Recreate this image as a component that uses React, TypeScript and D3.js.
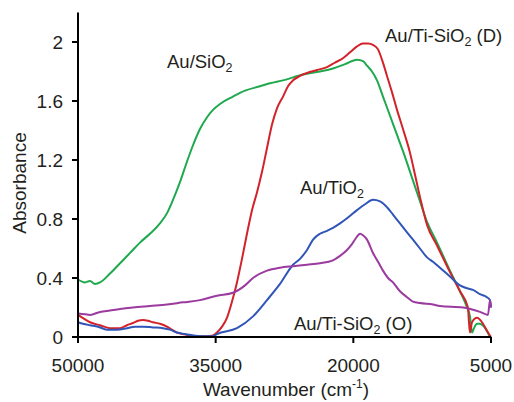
import React from "react";
import * as d3 from "d3";

type Pt = [number, number];

const xTicks = [50000, 35000, 20000, 5000];
const yTicks = [0, 0.4, 0.8, 1.2, 1.6, 2.0];
const yTickLabels = ["0", "0.4", "0.8", "1.2", "1.6", "2"];

// Au/SiO2 (green)
const auSiO2: Pt[] = [
  [50000, 0.39], [49240, 0.37], [48690, 0.38], [48150, 0.36], [47600, 0.37],
  [46510, 0.43], [45420, 0.5], [44330, 0.57], [43250, 0.64], [42160, 0.7],
  [41070, 0.77], [40300, 0.84], [39650, 0.93], [38890, 1.05], [38120, 1.19],
  [37470, 1.3], [36710, 1.41], [35940, 1.49], [35290, 1.54], [34530, 1.58],
  [33110, 1.63], [31800, 1.67], [30170, 1.7], [29080, 1.72], [27660, 1.74],
  [25480, 1.78], [23630, 1.8], [22220, 1.82], [20910, 1.85], [19600, 1.88],
  [18950, 1.87], [18510, 1.84], [17970, 1.8], [17420, 1.74], [16770, 1.63],
  [16000, 1.5], [15240, 1.37], [14590, 1.26], [13500, 1.06], [12740, 0.92],
  [11970, 0.78], [10880, 0.64], [9470, 0.45], [8380, 0.31], [7610, 0.2],
  [7290, 0.14], [7070, 0.03], [6850, 0.06], [6530, 0.09],
  [6200, 0.09], [5760, 0.07], [5440, 0.04], [5110, 0.0],
];

// Au/Ti-SiO2 (D) (red)
const auTiSiO2D: Pt[] = [
  [50000, 0.15], [49240, 0.12], [48690, 0.1], [47600, 0.08], [46510, 0.06],
  [45420, 0.06], [44660, 0.08], [44010, 0.095], [43460, 0.11], [42920, 0.115],
  [42370, 0.11], [41830, 0.1], [41070, 0.09], [40300, 0.07], [39760, 0.05],
  [39210, 0.03], [38560, 0.02], [37800, 0.01], [36710, 0.005], [35940, 0.005],
  [35290, 0.01], [34860, 0.03], [34310, 0.07], [33770, 0.13], [33220, 0.24],
  [32680, 0.37], [32130, 0.53], [31590, 0.7], [31040, 0.86], [30500, 0.98],
  [29950, 1.12], [29410, 1.28], [28860, 1.44], [28320, 1.55], [27660, 1.63],
  [27120, 1.7], [26570, 1.74], [25810, 1.77], [25050, 1.79], [23960, 1.81],
  [22870, 1.83], [22000, 1.86], [21130, 1.89], [20360, 1.93], [19600, 1.97],
  [18950, 1.99], [18400, 1.99], [17860, 1.98], [17310, 1.95], [16880, 1.88],
  [16330, 1.77], [15790, 1.66], [15240, 1.54], [14590, 1.41], [13830, 1.25],
  [13280, 1.1], [12740, 0.95], [11970, 0.76], [10880, 0.62], [9470, 0.44],
  [8380, 0.31], [7510, 0.2], [7400, 0.1],
  [7290, 0.03], [7070, 0.1], [6530, 0.13], [5870, 0.09], [5330, 0.03],
  [5000, 0.0],
];

// Au/TiO2 (blue)
const auTiO2: Pt[] = [
  [50000, 0.1], [49460, 0.09], [48690, 0.08], [47820, 0.07], [46840, 0.05],
  [45750, 0.05], [44660, 0.06], [43790, 0.07], [42920, 0.07], [41830, 0.065],
  [40740, 0.06], [39980, 0.05], [39210, 0.03], [38340, 0.02], [37470, 0.01],
  [36380, 0.005], [35290, 0.005], [34860, 0.02], [32680, 0.06], [30930, 0.14],
  [29410, 0.25], [27990, 0.36], [26570, 0.49], [25810, 0.53], [25050, 0.59],
  [24390, 0.66], [23630, 0.7], [22870, 0.72], [22220, 0.74], [21450, 0.77],
  [20580, 0.81], [19600, 0.86], [18730, 0.9], [17860, 0.93], [17090, 0.92],
  [16330, 0.88], [15680, 0.83], [14920, 0.77], [14150, 0.71], [13500, 0.66],
  [12740, 0.6], [11970, 0.54], [11320, 0.51], [10560, 0.47], [9470, 0.41],
  [8380, 0.35], [7610, 0.33], [6960, 0.32], [6200, 0.29], [5440, 0.27],
  [5110, 0.25], [5000, 0.2],
];

// Au/Ti-SiO2 (O) (purple)
const auTiSiO2O: Pt[] = [
  [50000, 0.16], [49240, 0.155], [48690, 0.15], [47600, 0.17], [46510, 0.18],
  [45420, 0.19], [44010, 0.2], [42160, 0.21], [40300, 0.22], [38560, 0.235],
  [36710, 0.25], [34860, 0.28], [33110, 0.3], [31800, 0.35], [30930, 0.4],
  [29410, 0.45], [27990, 0.47], [26570, 0.48], [25050, 0.49], [23630, 0.5],
  [22220, 0.52], [21450, 0.55], [20690, 0.59], [20150, 0.63], [19600, 0.68],
  [19270, 0.7], [18950, 0.69], [18510, 0.66], [17860, 0.57], [17310, 0.51],
  [16770, 0.45], [16220, 0.4], [15680, 0.37], [14920, 0.31], [14150, 0.27],
  [13500, 0.24], [12740, 0.23], [11320, 0.22], [10560, 0.21], [8050, 0.2],
  [6200, 0.17], [5330, 0.15], [5110, 0.25], [5000, 0.2],
];

const seriesNames = ["Au/SiO2", "Au/Ti-SiO2 (D)", "Au/TiO2", "Au/Ti-SiO2 (O)"];
const seriesData = [auSiO2, auTiSiO2D, auTiO2, auTiSiO2O];
const seriesColors = ["#1fa94f", "#d2232b", "#2f55b9", "#9b3a9f"];

const W = 514;
const H = 402;
const FONT = "'Liberation Sans', Arial, sans-serif";
const TEXT = "#231f20";

export default function App() {
  const x = d3.scaleLinear().domain([50000, 5000]).range([78, 491]);
  const y = d3.scaleLinear().domain([0, 2.2]).range([337, 12.5]);
  const line = d3
    .line<Pt>()
    .x((d) => x(d[0]))
    .y((d) => y(d[1]))
    .curve(d3.curveMonotoneX);

  return (
    <svg
      width={W}
      height={H}
      style={{ position: "fixed", left: 0, top: 0, background: "#fff" }}
      fontFamily={FONT}
    >
      <rect width={W} height={H} fill="#fff" />
      {seriesData.map((s, i) => (
        <path
          key={seriesNames[i]}
          d={line(s) || ""}
          fill="none"
          stroke={seriesColors[i]}
          strokeWidth={2}
          strokeLinejoin="round"
        />
      ))}
      {/* axes */}
      <line x1={x(50000)} x2={x(5000)} y1={y(0)} y2={y(0)} stroke="#000" strokeWidth={2} />
      <line x1={x(50000)} x2={x(50000)} y1={y(0)} y2={y(2.2)} stroke="#000" strokeWidth={2} />
      {xTicks.map((t) => (
        <g key={t}>
          <line x1={x(t)} x2={x(t)} y1={y(0)} y2={y(0) + 6} stroke="#000" strokeWidth={2} />
          <text x={x(t)} y={372} textAnchor="middle" fontSize={19} fill={TEXT}>
            {t}
          </text>
        </g>
      ))}
      {yTicks.map((t, i) => (
        <g key={t}>
          <line x1={x(50000) - 6} x2={x(50000)} y1={y(t)} y2={y(t)} stroke="#000" strokeWidth={2} />
          <text x={63} y={y(t) + 7} textAnchor="end" fontSize={19} fill={TEXT}>
            {yTickLabels[i]}
          </text>
        </g>
      ))}
      <text
        transform="translate(26,183) rotate(-90)"
        textAnchor="middle"
        fontSize={19}
        fill={TEXT}
      >
        Absorbance
      </text>
      <text x={286} y={396} textAnchor="middle" fontSize={19} fill={TEXT}>
        Wavenumber (cm
        <tspan dy={-8} fontSize={12}>-1</tspan>
        <tspan dy={8}>)</tspan>
      </text>
      {/* series labels */}
      <text x={167} y={68} fontSize={18.5} fill={TEXT}>
        Au/SiO<tspan dy={4} fontSize={12.5}>2</tspan>
      </text>
      <text x={385} y={42} fontSize={18.5} fill={TEXT}>
        Au/Ti-SiO<tspan dy={4} fontSize={12.5}>2</tspan>
        <tspan dy={-4}> (D)</tspan>
      </text>
      <text x={300} y={194} fontSize={18.5} fill={TEXT}>
        Au/TiO<tspan dy={4} fontSize={12.5}>2</tspan>
      </text>
      <text x={294} y={330} fontSize={18.5} fill={TEXT}>
        Au/Ti-SiO<tspan dy={4} fontSize={12.5}>2</tspan>
        <tspan dy={-4}> (O)</tspan>
      </text>
    </svg>
  );
}
